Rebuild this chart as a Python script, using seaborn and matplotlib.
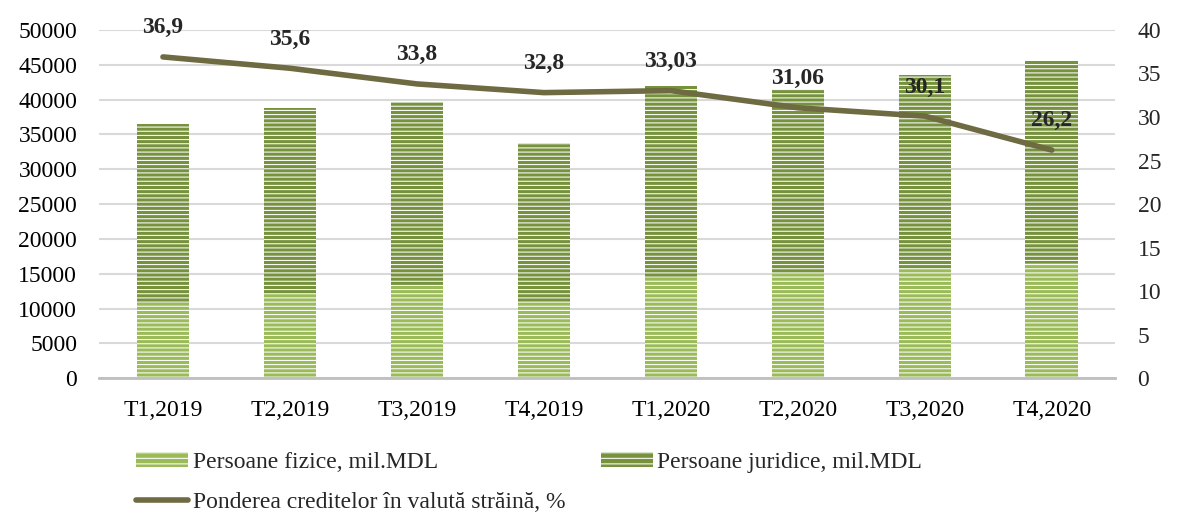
import pandas as pd
import matplotlib.pyplot as plt
import seaborn as sns
from matplotlib.patches import Patch
from matplotlib.lines import Line2D

quarters = ['T1,2019', 'T2,2019', 'T3,2019', 'T4,2019', 'T1,2020', 'T2,2020', 'T3,2020', 'T4,2020']
fizice = [10800, 12100, 13400, 10900, 14400, 15100, 15800, 16500]
juridice = [25700, 26700, 26300, 22900, 27600, 26400, 27700, 29100]
pondere = [36.9, 35.6, 33.8, 32.8, 33.03, 31.06, 30.1, 26.2]
pondere_lbl = ['36,9', '35,6', '33,8', '32,8', '33,03', '31,06', '30,1', '26,2']

df = pd.DataFrame({'q': quarters, 'fizice': fizice, 'juridice': juridice, 'pondere': pondere})
df['total'] = df['fizice'] + df['juridice']

light = '#9BBB59'
dark = '#76923C'
line_c = '#6E6A41'
fs = 17

sns.set_style('white')
plt.rcParams['font.family'] = ['Liberation Serif', 'DejaVu Serif']
plt.rcParams['hatch.linewidth'] = 0.75

fig = plt.figure(figsize=(11.84, 5.16), dpi=100)
ax = fig.add_axes([0.084, 0.267, 0.858, 0.675])

sns.barplot(ax=ax, data=df, x='q', y='total', color=dark, width=0.415,
            hatch='----', edgecolor='white', linewidth=0, saturation=1)
sns.barplot(ax=ax, data=df, x='q', y='fizice', color=light, width=0.415,
            hatch='----', edgecolor='white', linewidth=0, saturation=1)

ax.set_ylim(0, 50000)
ax.set_yticks(range(0, 50001, 5000))
ax.set_xlim(-0.5, 7.5)
ax.set_xlabel('')
ax.set_ylabel('')
ax.yaxis.grid(True, color='#D9D9D9', linewidth=1.5)
ax.set_axisbelow(True)
for s in ['top', 'right', 'left']:
    ax.spines[s].set_visible(False)
ax.spines['bottom'].set_color('#BFBFBF')
ax.spines['bottom'].set_linewidth(2)
ax.tick_params(axis='both', length=0, labelsize=fs, colors='black')
ax.tick_params(axis='x', pad=16)
ax.tick_params(axis='y', pad=16)

ax2 = ax.twinx()
sns.lineplot(ax=ax2, data=df, x='q', y='pondere', color=line_c, linewidth=4,
             solid_capstyle='round', sort=False)
ax2.set_ylim(0, 40)
ax2.set_yticks(range(0, 41, 5))
ax2.set_xlim(-0.5, 7.5)
ax2.set_ylabel('')
ax2.set_xlabel('')
for s in ['top', 'right', 'left', 'bottom']:
    ax2.spines[s].set_visible(False)
ax2.tick_params(axis='y', length=0, labelsize=fs, pad=16)

for i, (v, t) in enumerate(zip(pondere, pondere_lbl)):
    ax2.annotate(t, (i, v), xytext=(0, 21), textcoords='offset points',
                 ha='center', va='center', fontsize=fs, fontweight='bold')

handles = [
    Patch(facecolor=light, edgecolor='white', linewidth=0, hatch='---'),
    Line2D([0], [0], color=line_c, linewidth=4, solid_capstyle='round'),
    Patch(facecolor=dark, edgecolor='white', linewidth=0, hatch='---'),
]
labels = ['Persoane fizice, mil.MDL', 'Ponderea creditelor în valută străină, %',
          'Persoane juridice, mil.MDL']
fig.legend(handles, labels, ncol=2, loc='lower left', bbox_to_anchor=(0.097, -0.035),
           frameon=False, fontsize=fs, handlelength=2.2, handleheight=0.6,
           handletextpad=0.2, columnspacing=1.5, labelspacing=0.8)

fig.savefig('out.png', dpi=100)
